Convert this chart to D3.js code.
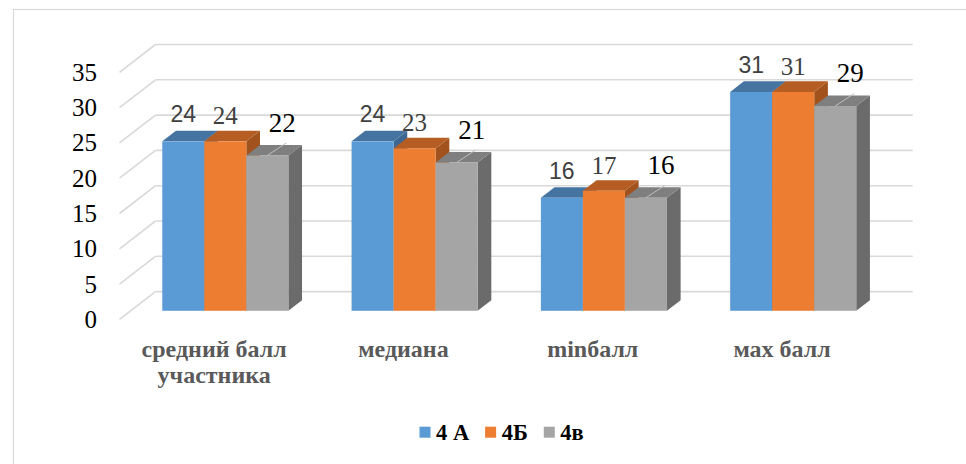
<!DOCTYPE html>
<html>
<head>
<meta charset="utf-8">
<script src="https://cdn.jsdelivr.net/npm/d3@7"></script>
<style>
html,body{margin:0;padding:0;background:#fff;}
svg{display:block;}
</style>
</head>
<body>
<svg id="chart" width="966" height="464"></svg>
<script>
const categories = [["средний балл","участника"],["медиана"],["minбалл"],["мах балл"]];
const seriesNames = ["4 А","4Б","4в"];
const s4A = [24,24,16,31];
const s4B = [24,23,17,31];
const s4V = [22,21,16,29];
const yTicks = [0,5,10,15,20,25,30,35];

const series = [s4A, s4B, s4V];
const frontCol = ["#5b9bd5","#ed7d31","#a5a5a5"];
const topCol = ["#4674a1","#b55d22","#7f7f7f"];
const sideCol = ["#3e6791","#a2521c","#6b6b6b"];
const SERIF = "Liberation Serif";
const SANS = "Liberation Sans";

const svg = d3.select("#chart");
// outer border
svg.append("rect").attr("x",13.5).attr("y",9.5).attr("width",962).attr("height",462)
  .attr("fill","#fff").attr("stroke","#d9d9d9").attr("stroke-width",1.2);

// depth
const DX = 36, DY = 27.8;
const tF = 0.31, tB = 0.69;
const y = d3.scaleLinear().domain([0,35]).range([319.4,72.3]);
const x = d3.scaleBand().domain(d3.range(categories.length)).range([119.5,876.7])
  .paddingInner(0.334).paddingOuter(0.167);
const xs = d3.scaleBand().domain(d3.range(series.length)).range([0,x.bandwidth()]);

const grid = svg.append("g").attr("stroke","#d9d9d9").attr("stroke-width",1.6).attr("fill","none");
yTicks.forEach(v=>{
  const yf = y(v), yb = y(v)-DY;
  grid.append("line").attr("x1",x.range()[0]+DX).attr("x2",x.range()[1]+DX).attr("y1",yb).attr("y2",yb);
  grid.append("line").attr("x1",x.range()[0]).attr("x2",x.range()[0]+DX).attr("y1",yf).attr("y2",yb);
});

// y tick labels
svg.append("g").selectAll("text").data(yTicks).join("text")
  .attr("x",97).attr("y",d=>y(d)).attr("text-anchor","end").attr("dominant-baseline","central")
  .style("font-family",SERIF).style("font-size","25px").attr("fill","#000")
  .text(d=>d);

// bars
const bars = svg.append("g");
categories.forEach((c,ci)=>{
  series.forEach((s,si)=>{
    const v = s[ci];
    const x0 = x(ci) + xs(si) + tF*DX;
    const w = xs.bandwidth();
    const ddx = (tB-tF)*DX, ddy = (tB-tF)*DY;
    const yTop = y(v) - tF*DY, yBot = y(0) - tF*DY;
    bars.append("path").attr("fill",sideCol[si])
      .attr("d",`M${x0+w},${yBot}L${x0+w+ddx},${yBot-ddy}L${x0+w+ddx},${yTop-ddy}L${x0+w},${yTop}Z`);
    bars.append("path").attr("fill",topCol[si])
      .attr("d",`M${x0},${yTop}L${x0+ddx},${yTop-ddy}L${x0+w+ddx},${yTop-ddy}L${x0+w},${yTop}Z`);
    bars.append("rect").attr("fill",frontCol[si]).attr("x",x0).attr("y",yTop).attr("width",w).attr("height",yBot-yTop);
  });
});

// data labels
const lab = svg.append("g");
const fonts = [
  {fam:SANS,size:23,fill:"#404040",dx:0,up:8.5},
  {fam:SERIF,size:25,fill:"#404040",dx:0,up:6.5},
  {fam:SERIF,size:27,fill:"#000",dx:15,up:13}
];
categories.forEach((c,ci)=>{
  series.forEach((s,si)=>{
    const v = s[ci];
    const cx = x(ci) + xs(si) + tF*DX + xs.bandwidth()/2;
    const yTopF = y(v) - tF*DY;
    const yTopB = y(v) - tB*DY;
    const f = fonts[si];
    if (si===2) {
      lab.append("line").attr("x1",cx).attr("y1",yTopF).attr("x2",cx+19).attr("y2",yTopF-12.5)
        .attr("stroke","#bfbfbf").attr("stroke-width",1);
    }
    lab.append("text").attr("x",cx+f.dx).attr("y",yTopB-f.up).attr("text-anchor","middle")
      .style("font-family",f.fam).style("font-size",f.size+"px").attr("fill",f.fill).text(v);
  });
});

// category labels
const cat = svg.append("g");
categories.forEach((c,ci)=>{
  const cx = x(ci) + x.bandwidth()/2;
  const t = cat.append("text").attr("x",cx).attr("y",356.7).attr("text-anchor","middle")
    .style("font-family",SERIF).style("font-weight","bold")
    .style("font-size","24px").attr("fill","#595959");
  c.forEach((line,li)=>{
    t.append("tspan").attr("x",cx).attr("dy",li===0?0:26.3).text(line);
  });
});

// legend
const leg = svg.append("g");
let lx = 419.5;
seriesNames.forEach((n,i)=>{
  leg.append("rect").attr("x",lx).attr("y",426.7).attr("width",11).attr("height",11).attr("fill",frontCol[i]);
  const t = leg.append("text").attr("x",lx+16.5).attr("y",439.5).style("font-family",SERIF)
    .style("font-weight","bold").style("font-size","22.5px").attr("fill","#000").text(n);
  lx = lx + 16.5 + t.node().getComputedTextLength() + 16;
});
</script>
</body>
</html>
